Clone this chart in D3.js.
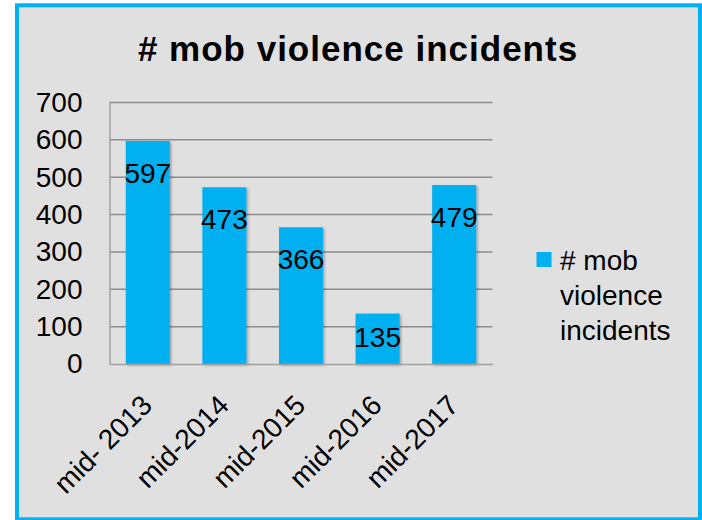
<!DOCTYPE html>
<html>
<head>
<meta charset="utf-8">
<script src="https://cdn.jsdelivr.net/npm/d3@7"></script>
<style>
  html, body { margin: 0; padding: 0; background: #ffffff; }
  svg { display: block; }
  text { font-family: "Liberation Sans", Arial, sans-serif; fill: #000; }
</style>
</head>
<body>
<script>
const categories = ["mid- 2013", "mid-2014", "mid-2015", "mid-2016", "mid-2017"];
const values = [597, 473, 366, 135, 479];
const yTicks = [0, 100, 200, 300, 400, 500, 600, 700];
const seriesName = "# mob violence incidents";
const legendLines = ["# mob", "violence", "incidents"];

const W = 702, H = 520;
const svg = d3.select("body").append("svg").attr("width", W).attr("height", H);

const defs = svg.append("defs");
const f = defs.append("filter").attr("id", "sh").attr("x", "-20%").attr("y", "-20%").attr("width", "140%").attr("height", "140%");
f.append("feDropShadow").attr("dx", 1.5).attr("dy", 1.5).attr("stdDeviation", 1.2)
  .attr("flood-color", "#000").attr("flood-opacity", 0.3);

// frame
svg.append("rect").attr("x", 17).attr("y", 5.3).attr("width", 683).attr("height", 514)
  .attr("fill", "#e0e0e0").attr("stroke", "#00b0f0").attr("stroke-width", 4);

// title
svg.append("text").attr("x", 358).attr("y", 60.5).attr("text-anchor", "middle")
  .style("font-size", "35px").style("font-weight", "bold").style("letter-spacing", "1px")
  .text(seriesName);

const x = d3.scaleBand().domain(categories).range([109.5, 492.5]).paddingInner(0.425).paddingOuter(0.2125);
const y = d3.scaleLinear().domain([0, 700]).range([364, 102.5]);

// gridlines
const grid = svg.append("g");
grid.selectAll("line").data(yTicks.filter(d => d > 0)).join("line")
  .attr("x1", 109.5).attr("x2", 492.5)
  .attr("y1", d => y(d)).attr("y2", d => y(d))
  .attr("stroke", "#8c8c8c").attr("stroke-width", 1.5);

// y axis
const yAxis = svg.append("g").attr("transform", "translate(109.5,0)")
  .call(d3.axisLeft(y).tickValues(yTicks).tickSize(0).tickPadding(27));
yAxis.select(".domain").attr("stroke", "#a0a0a0").attr("stroke-width", 1.5);
yAxis.selectAll("text").style("font-size", "28px").attr("font-family", null).attr("fill", "#000");

// bars
svg.append("g").selectAll("rect").data(values).join("rect")
  .attr("x", (d, i) => x(categories[i]))
  .attr("width", x.bandwidth())
  .attr("y", d => y(d))
  .attr("height", d => y(0) - y(d))
  .attr("fill", "#00b0f0")
  .attr("filter", "url(#sh)");

// x axis
const xAxis = svg.append("g").attr("transform", "translate(0,364)")
  .call(d3.axisBottom(x).tickSize(0).tickFormat(d => d));
xAxis.select(".domain").attr("stroke", "#a0a0a0").attr("stroke-width", 1.5);
xAxis.selectAll("text")
  .attr("font-family", null)
  .style("font-size", "28px")
  .attr("fill", "#000")
  .attr("text-anchor", "end")
  .attr("dy", null)
  .attr("y", 0)
  .attr("transform", "translate(6,43) rotate(-45)");

// data labels
svg.append("g").selectAll("text").data(values).join("text")
  .attr("x", (d, i) => x(categories[i]) + x.bandwidth() / 2)
  .attr("y", d => Math.min(y(d) + 42, y(0) - 17))
  .attr("text-anchor", "middle")
  .style("font-size", "28px")
  .text(d => d);

// legend
const lg = svg.append("g");
lg.append("rect").attr("x", 536.5).attr("y", 252).attr("width", 15).attr("height", 15).attr("fill", "#00b0f0");
lg.selectAll("text").data(legendLines).join("text")
  .attr("x", 560).attr("y", (d, i) => 270 + i * 35)
  .style("font-size", "28px")
  .text(d => d);
</script>
</body>
</html>
